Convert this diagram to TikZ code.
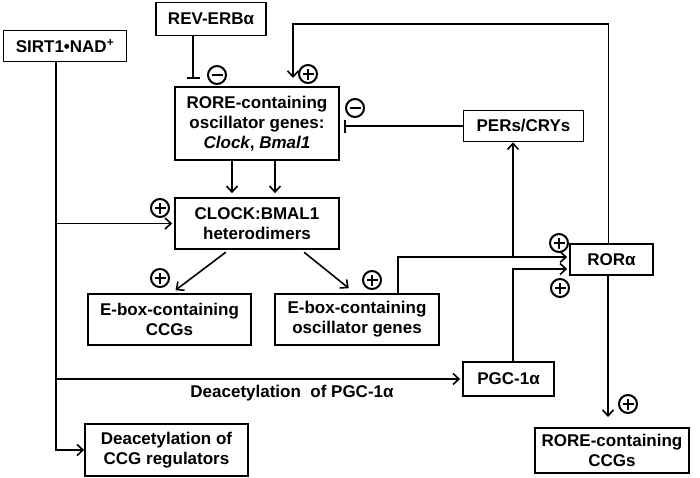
\documentclass[tikz,border=0pt]{standalone}
\usepackage{fontspec}
\setmainfont{Liberation Sans}
\usetikzlibrary{arrows.meta}

\begin{document}
\begin{tikzpicture}[x=1pt,y=-1pt]
    \tikzstyle{gene}=[rectangle, draw=black, line width=1.6pt, align=center, inner sep=2pt, font=\bfseries\fontsize{17}{20}\selectfont]
    \tikzstyle{connect}=[line width=1.6pt, -{Straight Barb[length=6pt,width=11pt]}]
    \tikzstyle{block}=[line width=1.6pt, -{Bar[width=13pt]}]
    \tikzstyle{sign}=[circle, draw=black, line width=2pt, minimum size=18pt, inner sep=0pt]
    \tikzstyle{upsign}=[sign, path picture={\draw[line width=2.8pt] ([xshift=-5.5pt]path picture bounding box.center) -- ([xshift=5.5pt]path picture bounding box.center) ([yshift=-5.5pt]path picture bounding box.center) -- ([yshift=5.5pt]path picture bounding box.center);}]
    \tikzstyle{downsign}=[sign, path picture={\draw[line width=2.8pt] ([xshift=-5.5pt]path picture bounding box.center) -- ([xshift=5.5pt]path picture bounding box.center);}]

    \useasboundingbox (0,0) rectangle (700,477);

    \node[gene, minimum width=110pt, minimum height=33pt] (rev) at (211,19) {REV-ERBα};
    \node[gene, minimum width=123pt, minimum height=31pt] (sirt) at (65,46) {SIRT1•NAD\textsuperscript{+}};
    \node[gene, minimum width=164pt, minimum height=73pt] (rore) at (257,123.5) {RORE-containing\\oscillator genes:\\\textit{Clock}, \textit{Bmal1}};
    \node[gene, minimum width=120pt, minimum height=31pt] (pers) at (523.5,126) {PERs/CRYs};
    \node[gene, minimum width=164pt, minimum height=51pt] (clock) at (257,223.5) {CLOCK:BMAL1\\heterodimers};
    \node[gene, minimum width=163pt, minimum height=51pt] (eccg) at (169.5,319.5) {E-box-containing\\CCGs};
    \node[gene, minimum width=164pt, minimum height=51pt] (eosc) at (357,319.5) {E-box-containing\\oscillator genes};
    \node[gene, minimum width=83pt, minimum height=31pt] (ror) at (611.5,259.5) {RORα};
    \node[gene, minimum width=91pt, minimum height=34pt] (pgc) at (508.5,379) {PGC-1α};
    \node[gene, minimum width=163pt, minimum height=52pt] (deac) at (166.5,450) {Deacetylation of\\CCG regulators};
    \node[gene, minimum width=154pt, minimum height=45pt] (roreccg) at (612,450.5) {RORE-containing\\CCGs};
    \node[font=\bfseries\fontsize{17}{20}\selectfont] (pgclab) at (292,393) {Deacetylation\ \ of PGC-1α};

    % free ends of the connectors
    \coordinate (revend) at (193,79);
    \coordinate (looptop) at (293,24);
    \coordinate (loopend) at (293,78);
    \coordinate (persend) at (344,126);
    \coordinate (sirtbot) at (56,449);
    \coordinate (persjoin) at (513,257);
    \coordinate (rorend) at (608,417);

    \draw[block] (rev.south -| revend) -- (revend);
    \draw[connect] ([xshift=-3pt]ror.north) |- (looptop) -- (loopend);
    \draw[block] (pers.west) -- (persend);
    \draw[connect, shorten >=4pt] ([xshift=-25pt]rore.south) -- ([xshift=-25pt]clock.north);
    \draw[connect, shorten >=4pt] ([xshift=18pt]rore.south) -- ([xshift=18pt]clock.north);
    \draw[connect] (sirt.south -| sirtbot) |- (deac.west);
    \draw[connect, shorten >=2pt] (sirtbot |- clock.west) -- (clock.west);
    \draw[connect, shorten >=2pt] (sirtbot |- pgc.west) -- (pgc.west);
    \draw[connect, shorten <=4pt, shorten >=5pt] ([xshift=-28pt]clock.south) -- ([xshift=2pt]eccg.north);
    \draw[connect, shorten <=4pt, shorten >=8pt] ([xshift=44pt]clock.south) -- ([xshift=-2pt]eosc.north);
    \draw[connect, shorten >=2pt] ([xshift=41pt]eosc.north) |- ([yshift=2.5pt]ror.west);
    \draw[connect] (persjoin) -- (persjoin |- pers.south);
    \draw[connect, shorten >=2pt] ([xshift=4.5pt]pgc.north) |- ([yshift=-9.5pt]ror.west);
    \draw[connect] (ror.south -| rorend) -- (rorend);

    \node[downsign] (revminus) at (217,75) {};
    \node[upsign] (loopplus) at (308,74) {};
    \node[downsign] (persminus) at (355,108) {};
    \node[upsign] (sirtplus) at (160,208) {};
    \node[upsign] (eccgplus) at (160,278) {};
    \node[upsign] (eoscplus) at (372,280) {};
    \node[upsign] (rorplusa) at (559,243) {};
    \node[upsign] (rorplusb) at (560,288) {};
    \node[upsign] (roreplus) at (628,404) {};
\end{tikzpicture}
\end{document}
